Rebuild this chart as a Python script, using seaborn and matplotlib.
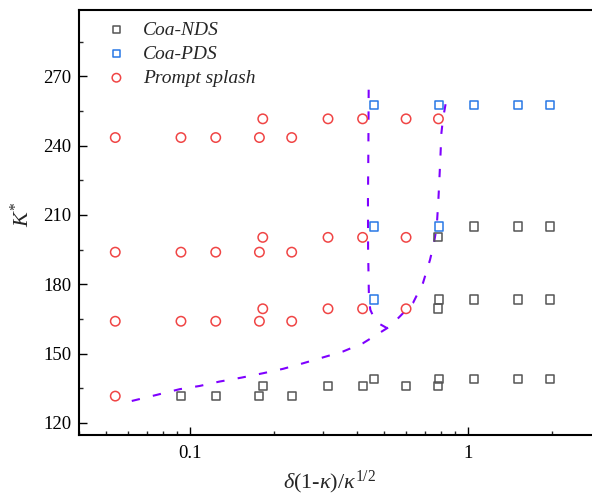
import numpy as np
import pandas as pd
import matplotlib
matplotlib.use("Agg")
import matplotlib.pyplot as plt
import seaborn as sns
from matplotlib.ticker import FixedLocator, FixedFormatter, LogLocator, NullFormatter, MultipleLocator

# ---------------- data ----------------
# Coa-NDS (grey squares)
nds_x = [0.093, 0.124, 0.178, 0.2325,
         0.183, 0.314, 0.418, 0.599, 0.783,
         0.4595, 0.789, 1.048, 1.509, 1.966,
         0.783,
         0.789, 1.048, 1.509, 1.966,
         0.783,
         1.048, 1.509, 1.966]
nds_y = [131.6, 131.6, 131.6, 131.6,
         136.0, 136.0, 136.0, 136.0, 136.0,
         139.2, 139.2, 139.2, 139.2, 139.2,
         169.5,
         173.4, 173.4, 173.4, 173.4,
         200.4,
         205.0, 205.0, 205.0]

# Coa-PDS (blue squares)
pds_x = [0.4595, 0.4595, 0.789, 0.4595, 0.789, 1.048, 1.509, 1.966]
pds_y = [173.4, 205.0, 205.0, 257.4, 257.4, 257.4, 257.4, 257.4]

# Prompt splash (red circles)
ps_x = [0.054,
        0.054, 0.093, 0.124, 0.178, 0.2325,
        0.183, 0.314, 0.418, 0.599,
        0.054, 0.093, 0.124, 0.178, 0.2325,
        0.183, 0.314, 0.418, 0.599,
        0.054, 0.093, 0.124, 0.178, 0.2325,
        0.183, 0.314, 0.418, 0.599, 0.783]
ps_y = [131.6,
        164.0, 164.0, 164.0, 164.0, 164.0,
        169.4, 169.4, 169.4, 169.4,
        193.9, 193.9, 193.9, 193.9, 193.9,
        200.3, 200.3, 200.3, 200.3,
        243.5, 243.5, 243.5, 243.5, 243.5,
        251.6, 251.6, 251.6, 251.6, 251.6]

# Boundary curve A (lower-left to upper-right)
curveA_x = [0.0619, 0.0759, 0.0920, 0.1086, 0.128, 0.1534, 0.1834, 0.2164, 0.2553,
            0.3554, 0.4195, 0.5232, 0.5683, 0.6343, 0.6892, 0.7303, 0.7548, 0.7720,
            0.7826, 0.789, 0.7960, 0.8025, 0.813, 0.8454]
curveA_y = [129.5, 132.1, 134.6, 136.0, 137.9, 139.6, 141.5, 143.4, 145.8,
            150.9, 154.5, 161.7, 166.0, 171.9, 180.6, 190.6, 197.9, 205.0,
            216.5, 225.2, 235.3, 245.5, 251.6, 263.2]

# Boundary curve B (near vertical)
curveB_x = [0.4396, 0.4385, 0.437, 0.4375, 0.4407, 0.4458, 0.4600, 0.4737, 0.5103]
curveB_y = [264.2, 238.2, 216.5, 194.9, 173.2, 168.9, 165.3, 163.3, 161.1]

legend_labels = ["Coa-NDS", "Coa-PDS", "Prompt splash"]
xtick_vals = [0.1, 1]
xtick_labels = ["0.1", "1"]
ytick_vals = [120, 150, 180, 210, 240, 270]

# ---------------- style ----------------
sns.set_theme(style="ticks")
plt.rcParams["font.family"] = ["Liberation Serif", "DejaVu Serif"]
plt.rcParams["mathtext.fontset"] = "custom"
plt.rcParams["mathtext.rm"] = "Liberation Serif"
plt.rcParams["mathtext.it"] = "Liberation Serif:italic"
plt.rcParams["mathtext.bf"] = "Liberation Serif:bold"

fig = plt.figure(figsize=(5.92, 4.96), dpi=100)
ax = fig.add_axes([79 / 592, 1 - 434.7 / 496, 1 - 79 / 592, (434.7 - 10) / 496])

c_nds = "#555555"
c_pds = "#2878E6"
c_ps = "#F04545"
c_line = "#7F00FF"

df_nds = pd.DataFrame({"x": nds_x, "y": nds_y})
df_pds = pd.DataFrame({"x": pds_x, "y": pds_y})
df_ps = pd.DataFrame({"x": ps_x, "y": ps_y})

sns.lineplot(x=curveA_x, y=curveA_y, sort=False, estimator=None, ax=ax,
             color=c_line, lw=1.5, dashes=False, zorder=1)
sns.lineplot(x=curveB_x, y=curveB_y, sort=False, estimator=None, ax=ax,
             color=c_line, lw=1.5, dashes=False, zorder=1)
for ln in ax.get_lines():
    ln.set_dashes((4.0, 6.4))

sns.scatterplot(data=df_nds, x="x", y="y", ax=ax, marker="s", s=34,
                facecolor="none", edgecolor=c_nds, linewidth=1.1,
                label=legend_labels[0], zorder=3)
sns.scatterplot(data=df_pds, x="x", y="y", ax=ax, marker="s", s=34,
                facecolor="none", edgecolor=c_pds, linewidth=1.1,
                label=legend_labels[1], zorder=3)
sns.scatterplot(data=df_ps, x="x", y="y", ax=ax, marker="o", s=46,
                facecolor="none", edgecolor=c_ps, linewidth=1.1,
                label=legend_labels[2], zorder=3)

ax.set_xscale("log")
ax.set_xlim(0.04, 2.79)
ax.set_ylim(114.9, 298.7)

ax.xaxis.set_major_locator(FixedLocator(xtick_vals))
ax.xaxis.set_major_formatter(FixedFormatter(xtick_labels))
ax.xaxis.set_minor_locator(LogLocator(base=10, subs=np.arange(2, 10) * 1.0, numticks=20))
ax.xaxis.set_minor_formatter(NullFormatter())
ax.yaxis.set_major_locator(FixedLocator(ytick_vals))
ax.yaxis.set_minor_locator(MultipleLocator(15))

ax.tick_params(axis="both", which="major", direction="in", length=5.8, width=1.0,
               labelsize=13.5, colors="black")
ax.tick_params(axis="both", which="minor", direction="in", length=2.8, width=1.0)
ax.tick_params(axis="x", which="major", pad=7.5)
ax.tick_params(axis="y", which="major", pad=5.5)
ax.tick_params(top=False, right=False, which="both")

for side in ["left", "bottom", "top"]:
    ax.spines[side].set_linewidth(1.5)
    ax.spines[side].set_color("black")
ax.spines["right"].set_visible(False)

ax.set_xlabel(r"$\delta$(1-$\kappa$)/$\kappa^{1/2}$", fontsize=16)
ax.set_ylabel(r"$K^{*}$", fontsize=16)
ax.xaxis.set_label_coords(0.489, -0.08)
ax.yaxis.set_label_coords(-0.089, 0.52)

leg = ax.legend(loc="upper left", bbox_to_anchor=(0.035, 0.992), frameon=False,
                prop={"family": "Liberation Serif", "style": "italic", "size": 14},
                markerscale=0.9, handletextpad=0.75, labelspacing=0.33,
                handlelength=1.2, borderaxespad=0.0)

fig.savefig("out.png", dpi=100)
